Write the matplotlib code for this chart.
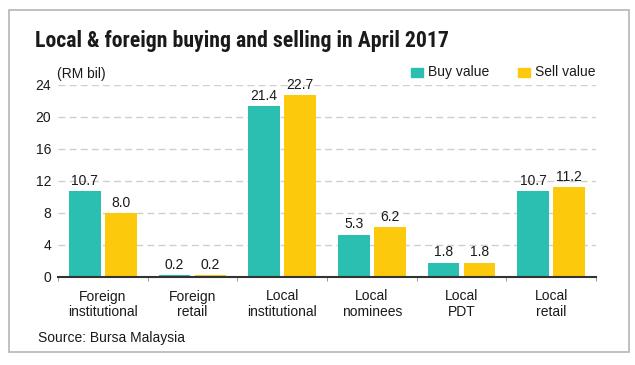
import matplotlib
matplotlib.use("Agg")
import matplotlib.pyplot as plt
import numpy as np
from matplotlib.patches import Rectangle

categories = ["Foreign\ninstitutional", "Foreign\nretail", "Local\ninstitutional",
              "Local\nnominees", "Local\nPDT", "Local\nretail"]
buy = [10.7, 0.2, 21.4, 5.3, 1.8, 10.7]
sell = [8.0, 0.2, 22.7, 6.2, 1.8, 11.2]
yticks = [0, 4, 8, 12, 16, 20, 24]

TEAL = "#2bbfb1"
YELLOW = "#fdc90c"
TXT = "#1a1a1a"
FONT = ["Liberation Sans", "DejaVu Sans"]

W, H = 635, 365
plt.rcParams["font.family"] = FONT
fig = plt.figure(figsize=(W / 100, H / 100), dpi=100)
fig.patch.set_facecolor("white")

fig.patches.append(Rectangle((9 / W, 1 - 352 / H), 620 / W, 342 / H,
                             transform=fig.transFigure, fill=False,
                             edgecolor="#b5b5b5", linewidth=1.2))

ax = fig.add_axes([58 / W, 1 - 277 / H, (596 - 58) / W, (277 - 85) / H])
x = np.arange(len(categories))
bw = 0.355
gap = 0.045
ax.bar(x - gap / 2 - bw / 2, buy, bw, color=TEAL, zorder=3)
ax.bar(x + gap / 2 + bw / 2, sell, bw, color=YELLOW, zorder=3)

fs = 10
for i in range(len(categories)):
    ax.text(x[i] - gap / 2 - bw / 2, buy[i] + 0.4, f"{buy[i]:.1f}", ha="center",
            va="bottom", fontsize=fs, color=TXT)
    ax.text(x[i] + gap / 2 + bw / 2, sell[i] + 0.4, f"{sell[i]:.1f}", ha="center",
            va="bottom", fontsize=fs, color=TXT)

ax.set_xlim(-0.5, len(categories) - 0.5)
ax.set_ylim(0, 24)
ax.set_yticks(yticks)
ax.set_yticklabels([str(t) for t in yticks], fontsize=fs, color=TXT)
ax.tick_params(axis="y", length=0, pad=5)
ax.set_xticks(x)
ax.set_xticklabels(categories, fontsize=fs, color=TXT, linespacing=1.15)
ax.tick_params(axis="x", length=0, pad=9)
ax.set_xticks(np.arange(len(categories) + 1) - 0.5, minor=True)
ax.tick_params(axis="x", which="minor", length=3, direction="out", color="#888888")

for t in yticks[1:]:
    ax.axhline(t, color="#cfcfcf", linestyle=(0, (5, 3)), linewidth=1, zorder=1)
for s in ["top", "right", "left"]:
    ax.spines[s].set_visible(False)
ax.spines["bottom"].set_color("#333333")
ax.spines["bottom"].set_linewidth(1.5)
ax.spines["bottom"].set_zorder(4)

fig.text(35 / W, 1 - 46.7 / H, "Local & foreign buying and selling in April 2017",
         fontsize=15.7, fontweight="bold",
         family=["Roboto Condensed", "DejaVu Sans"],
         va="baseline", ha="left", color=TXT)
fig.text(57 / W, 1 - 74 / H, "(RM bil)", fontsize=fs, va="center", ha="left", color=TXT)

fig.patches.append(Rectangle((411 / W, 1 - 77 / H), 12 / W, 9 / H,
                             transform=fig.transFigure, color=TEAL))
fig.text(428 / W, 1 - 72 / H, "Buy value", fontsize=fs, va="center", ha="left", color=TXT)
fig.patches.append(Rectangle((518 / W, 1 - 77 / H), 12 / W, 9 / H,
                             transform=fig.transFigure, color=YELLOW))
fig.text(535 / W, 1 - 72 / H, "Sell value", fontsize=fs, va="center", ha="left", color=TXT)

fig.text(38 / W, 1 - 338 / H, "Source: Bursa Malaysia", fontsize=fs, va="center",
         ha="left", color=TXT)

fig.savefig("out.png", dpi=100, facecolor="white")
